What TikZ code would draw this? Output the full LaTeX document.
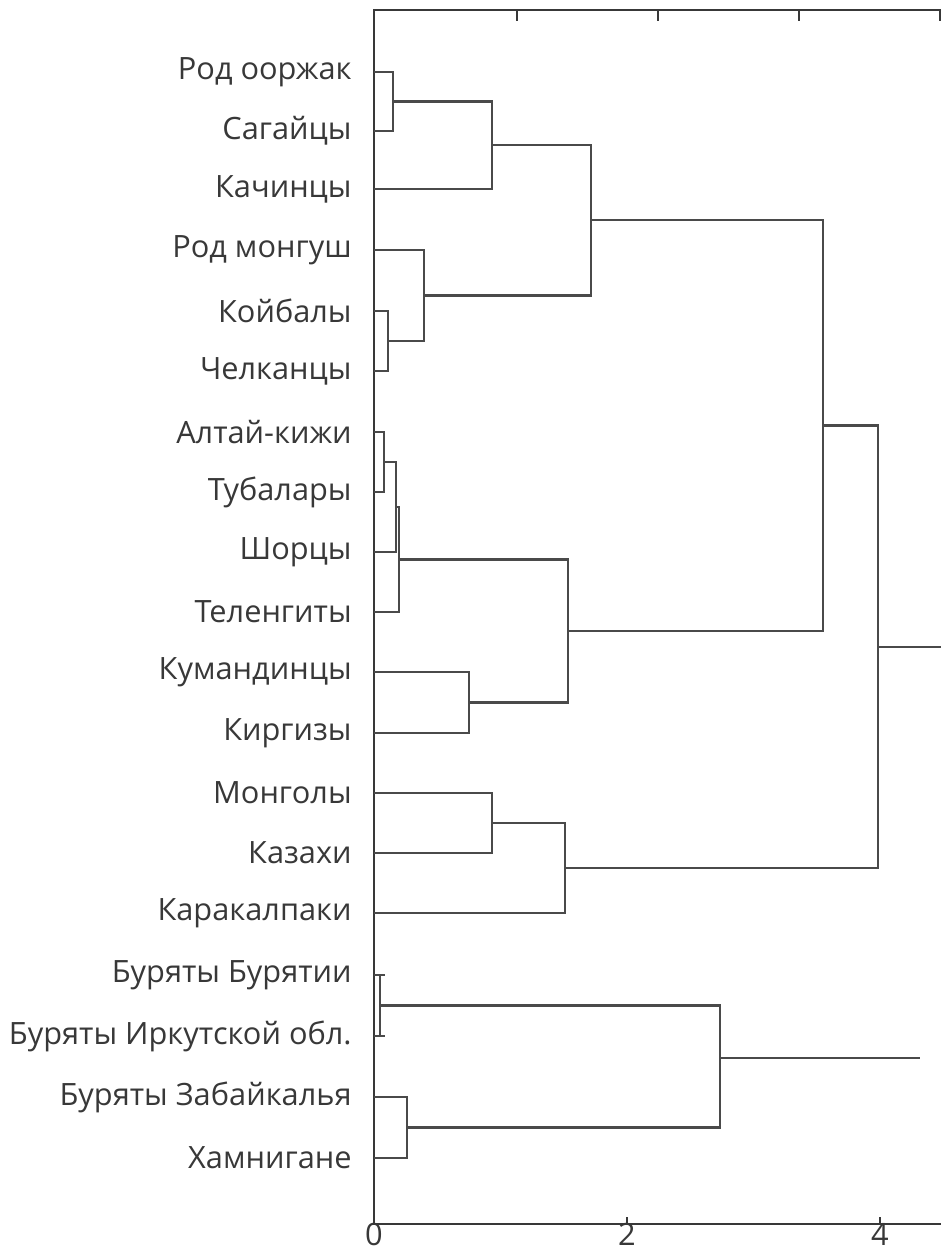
\documentclass[tikz,border=0pt]{standalone}
\usepackage{fontspec}
\setmainfont{Open Sans}
\usepackage{tikz}
\definecolor{inkgray}{HTML}{383838}
\definecolor{linegray}{HTML}{4A4A4A}

\begin{document}
\begin{tikzpicture}[x=0.02cm,y=-0.02cm,
		axisline/.style={draw=inkgray,line width=1.5pt},
		branch/.style={draw=linegray,line width=1.4pt},
		popname/.style={anchor=east,text=inkgray,inner sep=0pt,font=\fontsize{17.5}{20}\selectfont},
		ticklabel/.style={anchor=base,text=inkgray,inner sep=0pt,font=\fontsize{17.5}{20}\selectfont}]
		\useasboundingbox (0,0) rectangle (941,1252);
%		\draw[help lines] (0,0) grid[step=100] (941,1252);
		% frame
		\path (374,10) coordinate (frame_tl);
		\path (941,10) coordinate (frame_tr);
		\path (374,1224) coordinate (frame_bl);
		\path (941,1224) coordinate (frame_br);
		\path (627,1224) coordinate (tick_two);
		\path (880,1224) coordinate (tick_four);
		% leaves
		\path (374,72) coordinate (oorzhak);
		\path (374,131) coordinate (sagai);
		\path (374,189) coordinate (kachin);
		\path (374,250) coordinate (mongush);
		\path (374,311) coordinate (koibal);
		\path (374,371) coordinate (chelkan);
		\path (374,432) coordinate (altai);
		\path (374,492) coordinate (tubalar);
		\path (374,552) coordinate (shor);
		\path (374,612) coordinate (telengit);
		\path (374,672) coordinate (kumandin);
		\path (374,733) coordinate (kirgiz);
		\path (374,793) coordinate (mongol);
		\path (374,853) coordinate (kazakh);
		\path (374,913) coordinate (karakalpak);
		\path (374,975) coordinate (bur_bur);
		\path (374,1036) coordinate (bur_irk);
		\path (374,1097) coordinate (bur_zab);
		\path (374,1158) coordinate (khamnigan);
		% joins
		\path (393,101.5) coordinate (j_oorzhak);
		\path (492,145) coordinate (j_kachin);
		\path (388,341) coordinate (j_koibal);
		\path (424,295.5) coordinate (j_mongush);
		\path (591,220) coordinate (j_sayan);
		\path (384,462) coordinate (j_altai);
		\path (396,507) coordinate (j_shor);
		\path (399,559.5) coordinate (j_telengit);
		\path (469,702.5) coordinate (j_kirgiz);
		\path (568,631) coordinate (j_altaic);
		\path (823,425.5) coordinate (j_north);
		\path (492,823) coordinate (j_kazakh);
		\path (565,868) coordinate (j_steppe);
		\path (878,647) coordinate (j_top);
		\path (941,647) coordinate (j_top_end);
		\path (380,1005.5) coordinate (j_bur);
		\path (385,975) coordinate (bur_bur_end);
		\path (385,1036) coordinate (bur_irk_end);
		\path (407,1127.5) coordinate (j_zab);
		\path (720,1058) coordinate (j_buryat);
		\path (920,1058) coordinate (j_buryat_end);

		\draw[axisline] (frame_tr) -- (frame_tl) -- (frame_bl) -- (frame_br);
		\foreach \tx in {517,658,799,940}
			\draw[axisline] (\tx,10) -- (\tx,21);
		\draw[axisline] (tick_two) -- ++(0,-7);
		\draw[axisline] (tick_four) -- ++(0,-7);
		\node[ticklabel] (lab0) at (374,1245) {0};
		\node[ticklabel] (lab2) at (627,1245) {2};
		\node[ticklabel] (lab4) at (880,1245) {4};

		\node[popname] (n_oorzhak) at (352,72) {Род ооржак};
		\node[popname] (n_sagai) at (352,131) {Сагайцы};
		\node[popname] (n_kachin) at (352,189) {Качинцы};
		\node[popname] (n_mongush) at (352,250) {Род монгуш};
		\node[popname] (n_koibal) at (352,311) {Койбалы};
		\node[popname] (n_chelkan) at (352,371) {Челканцы};
		\node[popname] (n_altai) at (352,432) {Алтай-кижи};
		\node[popname] (n_tubalar) at (352,492) {Тубалары};
		\node[popname] (n_shor) at (352,552) {Шорцы};
		\node[popname] (n_telengit) at (352,612) {Теленгиты};
		\node[popname] (n_kumandin) at (352,672) {Кумандинцы};
		\node[popname] (n_kirgiz) at (352,733) {Киргизы};
		\node[popname] (n_mongol) at (352,793) {Монголы};
		\node[popname] (n_kazakh) at (352,853) {Казахи};
		\node[popname] (n_karakalpak) at (352,913) {Каракалпаки};
		\node[popname] (n_bur_bur) at (352,975) {Буряты Бурятии};
		\node[popname] (n_bur_irk) at (352,1036) {Буряты Иркутской обл.};
		\node[popname] (n_bur_zab) at (352,1097) {Буряты Забайкалья};
		\node[popname] (n_khamnigan) at (352,1158) {Хамнигане};

		% upper cluster
		\draw[branch] (oorzhak) -| (j_oorzhak) |- (sagai);
		\draw[branch] (j_oorzhak) -| (j_kachin) |- (kachin);
		\draw[branch] (koibal) -| (j_koibal) |- (chelkan);
		\draw[branch] (mongush) -| (j_mongush) |- (j_koibal);
		\draw[branch] (j_kachin) -| (j_sayan) |- (j_mongush);
		\draw[branch] (altai) -| (j_altai) |- (tubalar);
		\draw[branch] (j_altai) -| (j_shor) |- (shor);
		\draw[branch] (j_shor) -| (j_telengit) |- (telengit);
		\draw[branch] (kumandin) -| (j_kirgiz) |- (kirgiz);
		\draw[branch] (j_telengit) -| (j_altaic) |- (j_kirgiz);
		\draw[branch] (j_sayan) -| (j_north) |- (j_altaic);
		\draw[branch] (mongol) -| (j_kazakh) |- (kazakh);
		\draw[branch] (j_kazakh) -| (j_steppe) |- (karakalpak);
		\draw[branch] (j_north) -| (j_top) |- (j_steppe);
		\draw[branch] (j_top) -- (j_top_end);
		% buryat cluster
		\draw[branch] (bur_bur) -- (bur_bur_end);
		\draw[branch] (bur_irk) -- (bur_irk_end);
		\draw[branch] (j_bur |- bur_bur) -- (j_bur |- bur_irk);
		\draw[branch] (bur_zab) -| (j_zab) |- (khamnigan);
		\draw[branch] (j_bur) -| (j_buryat) |- (j_zab);
		\draw[branch] (j_buryat) -- (j_buryat_end);
	\end{tikzpicture}
\end{document}
